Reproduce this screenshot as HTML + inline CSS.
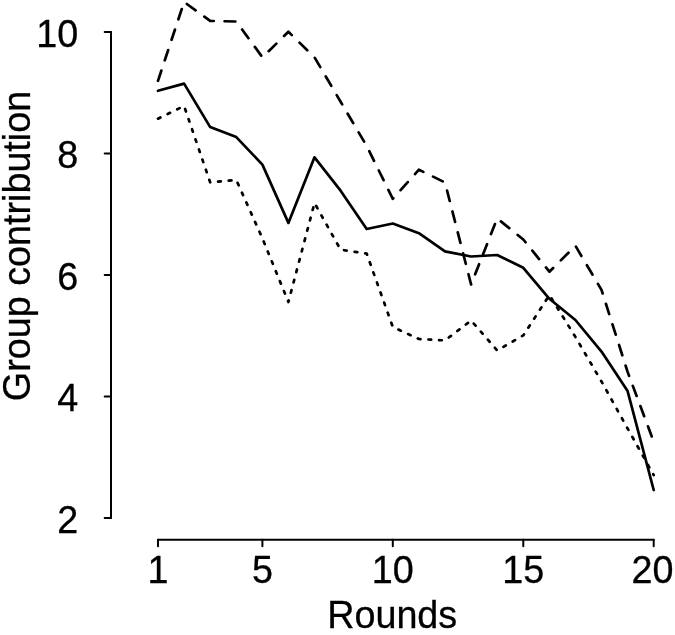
<!DOCTYPE html>
<html lang="en">
<head>
<meta charset="utf-8">
<title>Group contribution by rounds</title>
<style>
html,body{margin:0;padding:0;background:#fff;}
body{width:675px;height:635px;overflow:hidden;}
svg{display:block;}
text{font-family:"Liberation Sans",Arial,Helvetica,sans-serif;font-size:37.75px;fill:#000;stroke:#000;stroke-width:0.3px;}
.ax line{stroke:#000;stroke-width:2.0;stroke-linecap:round;}
.s{fill:none;stroke:#000;stroke-width:2.7;stroke-linejoin:round;stroke-linecap:round;}
</style>
</head>
<body>
<svg width="675" height="635" viewBox="0 0 675 635">
<rect width="675" height="635" fill="#fff"/>
<g class="ax">
<line x1="111.0" x2="111.0" y1="32.1" y2="517.9"/>
<line x1="104.7" x2="111.0" y1="517.9" y2="517.9"/><line x1="104.7" x2="111.0" y1="396.4" y2="396.4"/><line x1="104.7" x2="111.0" y1="275.0" y2="275.0"/><line x1="104.7" x2="111.0" y1="153.5" y2="153.5"/><line x1="104.7" x2="111.0" y1="32.1" y2="32.1"/>
<line x1="158.0" x2="653.7" y1="539.65" y2="539.65"/>
<line x1="158.0" x2="158.0" y1="539.65" y2="546.2"/><line x1="262.4" x2="262.4" y1="539.65" y2="546.2"/><line x1="392.8" x2="392.8" y1="539.65" y2="546.2"/><line x1="523.3" x2="523.3" y1="539.65" y2="546.2"/><line x1="653.7" x2="653.7" y1="539.65" y2="546.2"/>
</g>
<g><text transform="translate(78.2,532.6) scale(1,1.045)" text-anchor="end">2</text><text transform="translate(78.2,411.1) scale(1,1.045)" text-anchor="end">4</text><text transform="translate(78.2,289.7) scale(1,1.045)" text-anchor="end">6</text><text transform="translate(78.2,168.2) scale(1,1.045)" text-anchor="end">8</text><text transform="translate(78.2,46.8) scale(1,1.045)" text-anchor="end">10</text></g>
<g><text transform="translate(158.0,582.7) scale(1,1.045)" text-anchor="middle">1</text><text transform="translate(262.4,582.7) scale(1,1.045)" text-anchor="middle">5</text><text transform="translate(392.8,582.7) scale(1,1.045)" text-anchor="middle">10</text><text transform="translate(523.3,582.7) scale(1,1.045)" text-anchor="middle">15</text><text transform="translate(652.4,582.7) scale(1,1.045)" text-anchor="middle">20</text></g>
<text transform="translate(392.2,628.2) scale(1,1.01)" text-anchor="middle">Rounds</text>
<text transform="translate(30.2,246) rotate(-90) scale(1,1.01)" text-anchor="middle">Group contribution</text>
<polyline class="s" points="158.0,90.8 184.1,83.6 210.2,127.1 236.3,137.1 262.4,164.6 288.4,222.9 314.5,157.3 340.6,190.7 366.7,229.0 392.8,223.5 418.9,233.2 445.0,251.4 471.1,256.5 497.2,255.0 523.3,267.8 549.4,298.8 575.4,320.0 601.5,351.6 627.6,391.1 653.7,490.0"/>
<polyline class="s" style="stroke-dasharray:10.8 10.8" points="158.0,80.8 184.1,2.0 210.2,20.9 236.3,21.5 262.4,57.3 288.4,31.8 314.5,57.3 340.6,101.7 366.7,146.0 392.8,198.8 418.9,169.7 445.0,182.5 471.1,284.5 497.2,218.4 523.3,239.5 549.4,271.7 575.4,245.8 601.5,289.9 627.6,371.9 653.7,441.7"/>
<polyline class="s" style="stroke-dasharray:2.7 8.0" points="158.0,118.7 184.1,106.0 210.2,182.4 236.3,180.0 262.4,238.3 288.4,302.0 314.5,203.0 340.6,249.7 366.7,253.6 392.8,327.0 418.9,339.0 445.0,340.4 471.1,320.5 497.2,350.4 523.3,335.4 549.4,295.0 575.4,336.9 601.5,381.5 627.6,428.5 653.7,475.1"/>
</svg>
</body>
</html>
